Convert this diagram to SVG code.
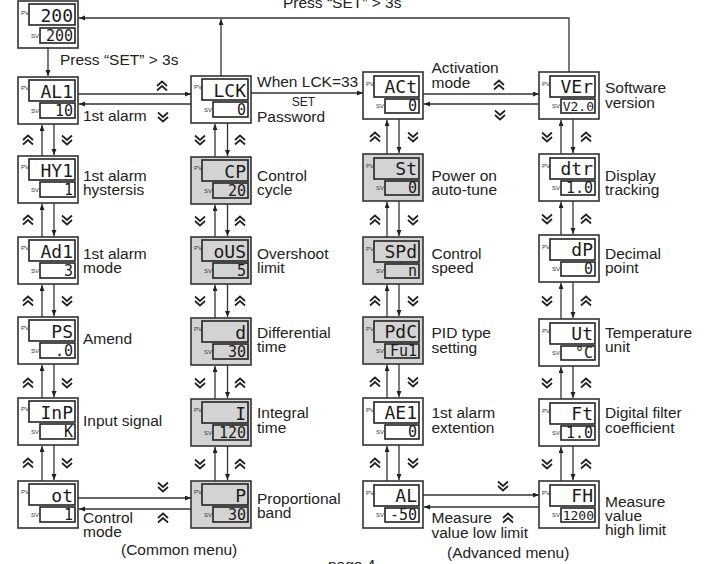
<svg xmlns="http://www.w3.org/2000/svg" xmlns:xlink="http://www.w3.org/1999/xlink" width="710" height="564" viewBox="0 0 710 564">
<style>
.box{fill:#fff;stroke:#333;stroke-width:1.6}
.disp{fill:#fff;stroke:#222;stroke-width:1.6}
.gray .box,.gray .disp{fill:#d3d3d3}
.tag{font-family:"Liberation Sans",Arial,sans-serif;font-size:6px;fill:#333}
.seg{font-family:"DejaVu Sans Mono",monospace;fill:#1a1a1a;text-anchor:end}
.pv{font-size:18px}
.sv{font-size:15px}
.svs{font-size:13px}
.lbl{font-family:"Liberation Sans",Arial,sans-serif;font-size:15.5px;fill:#222}
.small{font-family:"Liberation Sans",Arial,sans-serif;font-size:12px;fill:#222}
.ln{stroke:#333;stroke-width:1.3;fill:none;marker-end:url(#ah)}
.plain{stroke:#333;stroke-width:1.3;fill:none}
.chev{stroke:#222;stroke-width:1.7;fill:none}
</style>
<defs>
<marker id="ah" markerWidth="7" markerHeight="6" refX="6" refY="2.5" orient="auto" markerUnits="userSpaceOnUse">
<path d="M0,0 L6,2.5 L0,5 z" fill="#222"/>
</marker>
<path id="cu" class="chev" d="M-5,0 L0,-4.5 L5,0 M-5,4.5 L0,0 L5,4.5"/>
<path id="cd" class="chev" d="M-5,0 L0,4.5 L5,0 M-5,-4.5 L0,0 L5,-4.5"/>
</defs>
<rect width="710" height="564" fill="#fff"/>

<!-- Top node -->
<g id="n-main" transform="translate(18,1)">
<rect class="box" width="60" height="47"/><rect class="disp" x="11" y="3" width="46" height="21"/><rect class="disp" x="22" y="27" width="35" height="15"/>
<text class="tag" x="3" y="14">PV</text><text class="tag" x="13" y="37">SV</text>
<text class="seg pv" x="55" y="20.5">200</text><text class="seg sv" x="55" y="40">200</text>
</g>

<!-- Column 1 (Common menu) -->
<g id="n-al1" transform="translate(18,77)">
<rect class="box" width="60" height="47"/><rect class="disp" x="11" y="3" width="46" height="21"/><rect class="disp" x="22" y="26" width="35" height="15"/>
<text class="tag" x="3" y="13">PV</text><text class="tag" x="13" y="36">SV</text>
<text class="seg pv" x="55" y="20.5">AL1</text><text class="seg sv" x="55" y="39">10</text>
</g>
<g id="n-hy1" transform="translate(18,156)">
<rect class="box" width="60" height="47"/><rect class="disp" x="11" y="3" width="46" height="21"/><rect class="disp" x="22" y="26" width="35" height="15"/>
<text class="tag" x="3" y="13">PV</text><text class="tag" x="13" y="36">SV</text>
<text class="seg pv" x="55" y="20.5">HY1</text><text class="seg sv" x="55" y="39">1</text>
</g>
<g id="n-ad1" transform="translate(18,237)">
<rect class="box" width="60" height="47"/><rect class="disp" x="11" y="3" width="46" height="21"/><rect class="disp" x="22" y="26" width="35" height="15"/>
<text class="tag" x="3" y="13">PV</text><text class="tag" x="13" y="36">SV</text>
<text class="seg pv" x="55" y="20.5">Ad1</text><text class="seg sv" x="55" y="39">3</text>
</g>
<g id="n-ps" transform="translate(18,317)">
<rect class="box" width="60" height="47"/><rect class="disp" x="11" y="3" width="46" height="21"/><rect class="disp" x="22" y="26" width="35" height="15"/>
<text class="tag" x="3" y="13">PV</text><text class="tag" x="13" y="36">SV</text>
<text class="seg pv" x="55" y="20.5">PS</text><text class="seg sv" x="55" y="39">.0</text>
</g>
<g id="n-inp" transform="translate(18,398)">
<rect class="box" width="60" height="47"/><rect class="disp" x="11" y="3" width="46" height="21"/><rect class="disp" x="22" y="26" width="35" height="15"/>
<text class="tag" x="3" y="13">PV</text><text class="tag" x="13" y="36">SV</text>
<text class="seg pv" x="55" y="20.5">InP</text><text class="seg sv" x="55" y="39">K</text>
</g>
<g id="n-ot" transform="translate(18,481)">
<rect class="box" width="60" height="47"/><rect class="disp" x="11" y="3" width="46" height="21"/><rect class="disp" x="22" y="26" width="35" height="15"/>
<text class="tag" x="3" y="13">PV</text><text class="tag" x="13" y="36">SV</text>
<text class="seg pv" x="55" y="20.5">ot</text><text class="seg sv" x="55" y="39">1</text>
</g>

<!-- Column 2 -->
<g id="n-lck" transform="translate(191,76)">
<rect class="box" width="60" height="47"/><rect class="disp" x="11" y="3" width="46" height="21"/><rect class="disp" x="22" y="26" width="35" height="15"/>
<text class="tag" x="3" y="13">PV</text><text class="tag" x="13" y="36">SV</text>
<text class="seg pv" x="55" y="20.5">LCK</text><text class="seg sv" x="55" y="39">0</text>
</g>
<g id="n-cp" class="gray" transform="translate(191,157)">
<rect class="box" width="60" height="47"/><rect class="disp" x="11" y="3" width="46" height="21"/><rect class="disp" x="22" y="26" width="35" height="15"/>
<text class="tag" x="3" y="13">PV</text><text class="tag" x="13" y="36">SV</text>
<text class="seg pv" x="55" y="20.5">CP</text><text class="seg sv" x="55" y="39">20</text>
</g>
<g id="n-ous" class="gray" transform="translate(191,237)">
<rect class="box" width="60" height="47"/><rect class="disp" x="11" y="3" width="46" height="21"/><rect class="disp" x="22" y="26" width="35" height="15"/>
<text class="tag" x="3" y="13">PV</text><text class="tag" x="13" y="36">SV</text>
<text class="seg pv" x="55" y="20.5">oUS</text><text class="seg sv" x="55" y="39">5</text>
</g>
<g id="n-d" class="gray" transform="translate(191,318)">
<rect class="box" width="60" height="47"/><rect class="disp" x="11" y="3" width="46" height="21"/><rect class="disp" x="22" y="26" width="35" height="15"/>
<text class="tag" x="3" y="13">PV</text><text class="tag" x="13" y="36">SV</text>
<text class="seg pv" x="55" y="20.5">d</text><text class="seg sv" x="55" y="39">30</text>
</g>
<g id="n-i" class="gray" transform="translate(191,399)">
<rect class="box" width="60" height="47"/><rect class="disp" x="11" y="3" width="46" height="21"/><rect class="disp" x="22" y="26" width="35" height="15"/>
<text class="tag" x="3" y="13">PV</text><text class="tag" x="13" y="36">SV</text>
<text class="seg pv" x="55" y="20.5">I</text><text class="seg sv" x="55" y="39">120</text>
</g>
<g id="n-p" class="gray" transform="translate(191,481)">
<rect class="box" width="60" height="47"/><rect class="disp" x="11" y="3" width="46" height="21"/><rect class="disp" x="22" y="26" width="35" height="15"/>
<text class="tag" x="3" y="13">PV</text><text class="tag" x="13" y="36">SV</text>
<text class="seg pv" x="55" y="20.5">P</text><text class="seg sv" x="55" y="39">30</text>
</g>

<!-- Column 3 (Advanced menu) -->
<g id="n-act" transform="translate(363,72)">
<rect class="box" width="60" height="47"/><rect class="disp" x="11" y="4" width="45" height="21"/><rect class="disp" x="22" y="27" width="34" height="14"/>
<text class="tag" x="3" y="14">PV</text><text class="tag" x="13" y="36">SV</text>
<text class="seg pv" x="54" y="21">ACt</text><text class="seg sv" x="54" y="39">0</text>
</g>
<g id="n-st" class="gray" transform="translate(363,154)">
<rect class="box" width="60" height="47"/><rect class="disp" x="11" y="4" width="45" height="21"/><rect class="disp" x="22" y="27" width="34" height="14"/>
<text class="tag" x="3" y="14">PV</text><text class="tag" x="13" y="36">SV</text>
<text class="seg pv" x="54" y="21">St</text><text class="seg sv" x="54" y="39">0</text>
</g>
<g id="n-spd" class="gray" transform="translate(363,237)">
<rect class="box" width="60" height="47"/><rect class="disp" x="11" y="4" width="45" height="21"/><rect class="disp" x="22" y="27" width="34" height="14"/>
<text class="tag" x="3" y="14">PV</text><text class="tag" x="13" y="36">SV</text>
<text class="seg pv" x="54" y="21">SPd</text><text class="seg sv" x="54" y="39">n</text>
</g>
<g id="n-pdc" class="gray" transform="translate(363,317)">
<rect class="box" width="60" height="47"/><rect class="disp" x="11" y="4" width="45" height="21"/><rect class="disp" x="22" y="27" width="34" height="14"/>
<text class="tag" x="3" y="14">PV</text><text class="tag" x="13" y="36">SV</text>
<text class="seg pv" x="54" y="21">PdC</text><text class="seg sv" x="54" y="39">Fu1</text>
</g>
<g id="n-ae1" transform="translate(363,398)">
<rect class="box" width="60" height="47"/><rect class="disp" x="11" y="4" width="45" height="21"/><rect class="disp" x="22" y="27" width="34" height="14"/>
<text class="tag" x="3" y="14">PV</text><text class="tag" x="13" y="36">SV</text>
<text class="seg pv" x="54" y="21">AE1</text><text class="seg sv" x="54" y="39">0</text>
</g>
<g id="n-al" transform="translate(363,481)">
<rect class="box" width="60" height="47"/><rect class="disp" x="11" y="4" width="45" height="21"/><rect class="disp" x="22" y="27" width="34" height="14"/>
<text class="tag" x="3" y="14">PV</text><text class="tag" x="13" y="36">SV</text>
<text class="seg pv" x="54" y="21">AL</text><text class="seg sv" x="54" y="39">-50</text>
</g>

<!-- Column 4 -->
<g id="n-ver" transform="translate(539,72)">
<rect class="box" width="60" height="47"/><rect class="disp" x="11" y="4" width="45" height="21"/><rect class="disp" x="22" y="27" width="34" height="14"/>
<text class="tag" x="3" y="14">PV</text><text class="tag" x="13" y="36">SV</text>
<text class="seg pv" x="54" y="21">VEr</text><text class="seg svs" x="55" y="38.5">V2.0</text>
</g>
<g id="n-dtr" transform="translate(539,154)">
<rect class="box" width="60" height="47"/><rect class="disp" x="11" y="4" width="45" height="21"/><rect class="disp" x="22" y="27" width="34" height="14"/>
<text class="tag" x="3" y="14">PV</text><text class="tag" x="13" y="36">SV</text>
<text class="seg pv" x="54" y="21">dtr</text><text class="seg sv" x="54" y="39">1.0</text>
</g>
<g id="n-dp" transform="translate(539,235)">
<rect class="box" width="60" height="47"/><rect class="disp" x="11" y="4" width="45" height="21"/><rect class="disp" x="22" y="27" width="34" height="14"/>
<text class="tag" x="3" y="14">PV</text><text class="tag" x="13" y="36">SV</text>
<text class="seg pv" x="54" y="21">dP</text><text class="seg sv" x="54" y="39">0</text>
</g>
<g id="n-ut" transform="translate(539,319)">
<rect class="box" width="60" height="47"/><rect class="disp" x="11" y="4" width="45" height="21"/><rect class="disp" x="22" y="27" width="34" height="14"/>
<text class="tag" x="3" y="14">PV</text><text class="tag" x="13" y="36">SV</text>
<text class="seg pv" x="54" y="21">Ut</text><text class="seg sv" x="54" y="39">°C</text>
</g>
<g id="n-ft" transform="translate(539,399)">
<rect class="box" width="60" height="47"/><rect class="disp" x="11" y="4" width="45" height="21"/><rect class="disp" x="22" y="27" width="34" height="14"/>
<text class="tag" x="3" y="14">PV</text><text class="tag" x="13" y="36">SV</text>
<text class="seg pv" x="54" y="21">Ft</text><text class="seg sv" x="54" y="39">1.0</text>
</g>
<g id="n-fh" transform="translate(539,481)">
<rect class="box" width="60" height="47"/><rect class="disp" x="11" y="4" width="45" height="21"/><rect class="disp" x="22" y="27" width="34" height="14"/>
<text class="tag" x="3" y="14">PV</text><text class="tag" x="13" y="36">SV</text>
<text class="seg pv" x="54" y="21">FH</text><text class="seg svs" x="55" y="38.5">1200</text>
</g>

<!-- Connectors -->
<g id="connectors">
<path class="ln" d="M569,72 V18 H79"/>
<path class="ln" d="M48,48 V76"/>
<path class="ln" d="M221,76 V19"/>
<path class="ln" d="M78,94 H191"/>
<path class="ln" d="M191,104 H79"/>
<path class="ln" d="M251,93 H363"/>
<path class="ln" d="M423,94 H539"/>
<path class="ln" d="M539,104 H424"/>
<path class="ln" d="M78,498 H191"/>
<path class="ln" d="M191,509 H79"/>
<path class="ln" d="M423,495 H539"/>
<path class="ln" d="M539,507 H424"/>
<!-- col1 -->
<path class="ln" d="M42,156 V125"/><path class="ln" d="M54,124 V155"/>
<path class="ln" d="M42,237 V204"/><path class="ln" d="M54,203 V236"/>
<path class="ln" d="M42,317 V285"/><path class="ln" d="M54,284 V316"/>
<path class="ln" d="M42,398 V365"/><path class="ln" d="M54,364 V397"/>
<path class="ln" d="M42,481 V446"/><path class="ln" d="M54,445 V480"/>
<!-- col2 -->
<path class="ln" d="M215,157 V124"/><path class="ln" d="M227.5,123 V156"/>
<path class="ln" d="M215,237 V205"/><path class="ln" d="M227.5,204 V236"/>
<path class="ln" d="M215,318 V285"/><path class="ln" d="M227.5,284 V317"/>
<path class="ln" d="M215,399 V366"/><path class="ln" d="M227.5,365 V398"/>
<path class="ln" d="M215,481 V447"/><path class="ln" d="M227.5,446 V480"/>
<!-- col3 -->
<path class="ln" d="M387,154 V120"/><path class="ln" d="M399,119 V153"/>
<path class="ln" d="M387,237 V202"/><path class="ln" d="M399,201 V236"/>
<path class="ln" d="M387,317 V285"/><path class="ln" d="M399,284 V316"/>
<path class="ln" d="M387,398 V365"/><path class="ln" d="M399,364 V397"/>
<path class="ln" d="M387,481 V446"/><path class="ln" d="M399,445 V480"/>
<!-- col4 -->
<path class="ln" d="M561,154 V120"/><path class="ln" d="M573,119 V153"/>
<path class="ln" d="M561,235 V202"/><path class="ln" d="M573,201 V234"/>
<path class="ln" d="M561,319 V283"/><path class="ln" d="M573,282 V318"/>
<path class="ln" d="M561,399 V367"/><path class="ln" d="M573,366 V398"/>
<path class="ln" d="M561,481 V447"/><path class="ln" d="M573,446 V480"/>
</g>

<!-- Chevrons -->
<g id="chevrons">
<use href="#cu" x="162" y="86"/><use href="#cd" x="163" y="117"/>
<use href="#cu" x="499" y="85"/><use href="#cd" x="500" y="115"/>
<use href="#cd" x="163" y="487"/><use href="#cu" x="163" y="518"/>
<use href="#cd" x="503" y="486"/><use href="#cu" x="508" y="518"/>
<use href="#cu" x="28" y="140"/><use href="#cd" x="67" y="140"/>
<use href="#cu" x="28" y="220"/><use href="#cd" x="67" y="220"/>
<use href="#cu" x="28" y="301"/><use href="#cd" x="67" y="301"/>
<use href="#cu" x="28" y="383"/><use href="#cd" x="67" y="383"/>
<use href="#cu" x="28" y="463"/><use href="#cd" x="67" y="463"/>
<use href="#cd" x="200" y="140"/><use href="#cu" x="240" y="140"/>
<use href="#cd" x="200" y="221"/><use href="#cu" x="240" y="221"/>
<use href="#cd" x="200" y="301"/><use href="#cu" x="240" y="301"/>
<use href="#cd" x="200" y="383"/><use href="#cu" x="240" y="383"/>
<use href="#cd" x="200" y="464"/><use href="#cu" x="240" y="464"/>
<use href="#cu" x="375" y="137"/><use href="#cd" x="413" y="137"/>
<use href="#cu" x="375" y="220"/><use href="#cd" x="413" y="220"/>
<use href="#cu" x="375" y="301"/><use href="#cd" x="413" y="301"/>
<use href="#cu" x="375" y="382"/><use href="#cd" x="413" y="382"/>
<use href="#cu" x="375" y="463"/><use href="#cd" x="413" y="463"/>
<use href="#cd" x="547" y="137"/><use href="#cu" x="586" y="137"/>
<use href="#cd" x="547" y="219"/><use href="#cu" x="586" y="219"/>
<use href="#cd" x="547" y="301"/><use href="#cu" x="586" y="301"/>
<use href="#cd" x="547" y="383"/><use href="#cu" x="586" y="383"/>
<use href="#cd" x="547" y="464"/><use href="#cu" x="586" y="464"/>
</g>

<!-- Labels -->
<g id="labels">
<text class="lbl" x="283" y="8">Press “SET” &gt; 3s</text>
<text class="lbl" x="60" y="65">Press “SET” &gt; 3s</text>
<text class="lbl" x="83" y="121">1st alarm</text>
<text class="lbl" x="257" y="86.5">When LCK=33</text>
<text class="small" x="303.5" y="106" text-anchor="middle">SET</text>
<text class="lbl" x="257" y="121.5">Password</text>
<text class="lbl" x="431.5" y="73">Activation</text><text class="lbl" x="431.5" y="87.5">mode</text>
<text class="lbl" x="605" y="93">Software</text><text class="lbl" x="605" y="108">version</text>

<text class="lbl" x="83" y="180.5">1st alarm</text><text class="lbl" x="83" y="195">hystersis</text>
<text class="lbl" x="83" y="259">1st alarm</text><text class="lbl" x="83" y="273">mode</text>
<text class="lbl" x="83" y="344">Amend</text>
<text class="lbl" x="83" y="425.5">Input signal</text>
<text class="lbl" x="83" y="523">Control</text><text class="lbl" x="83" y="537">mode</text>

<text class="lbl" x="257" y="180.5">Control</text><text class="lbl" x="257" y="195">cycle</text>
<text class="lbl" x="257" y="259">Overshoot</text><text class="lbl" x="257" y="273">limit</text>
<text class="lbl" x="257" y="337.5">Differential</text><text class="lbl" x="257" y="351.5">time</text>
<text class="lbl" x="257" y="418">Integral</text><text class="lbl" x="257" y="432.5">time</text>
<text class="lbl" x="257" y="503.5">Proportional</text><text class="lbl" x="257" y="517.5">band</text>

<text class="lbl" x="431.5" y="180.5">Power on</text><text class="lbl" x="431.5" y="195">auto-tune</text>
<text class="lbl" x="431.5" y="259">Control</text><text class="lbl" x="431.5" y="273">speed</text>
<text class="lbl" x="431.5" y="338">PID type</text><text class="lbl" x="431.5" y="352.5">setting</text>
<text class="lbl" x="431.5" y="418">1st alarm</text><text class="lbl" x="431.5" y="432.5">extention</text>
<text class="lbl" x="431.5" y="522.5">Measure</text><text class="lbl" x="431.5" y="537.5">value low limit</text>

<text class="lbl" x="605" y="180.5">Display</text><text class="lbl" x="605" y="195">tracking</text>
<text class="lbl" x="605" y="259">Decimal</text><text class="lbl" x="605" y="273">point</text>
<text class="lbl" x="605" y="338">Temperature</text><text class="lbl" x="605" y="352">unit</text>
<text class="lbl" x="605" y="418">Digital filter</text><text class="lbl" x="605" y="433">coefficient</text>
<text class="lbl" x="605" y="507">Measure</text><text class="lbl" x="605" y="521">value</text><text class="lbl" x="605" y="535">high limit</text>

<text class="lbl" x="121" y="555">(Common menu)</text>
<text class="lbl" x="447" y="558">(Advanced menu)</text>
<text class="lbl" x="328" y="570">page 4</text>
</g>
</svg>
